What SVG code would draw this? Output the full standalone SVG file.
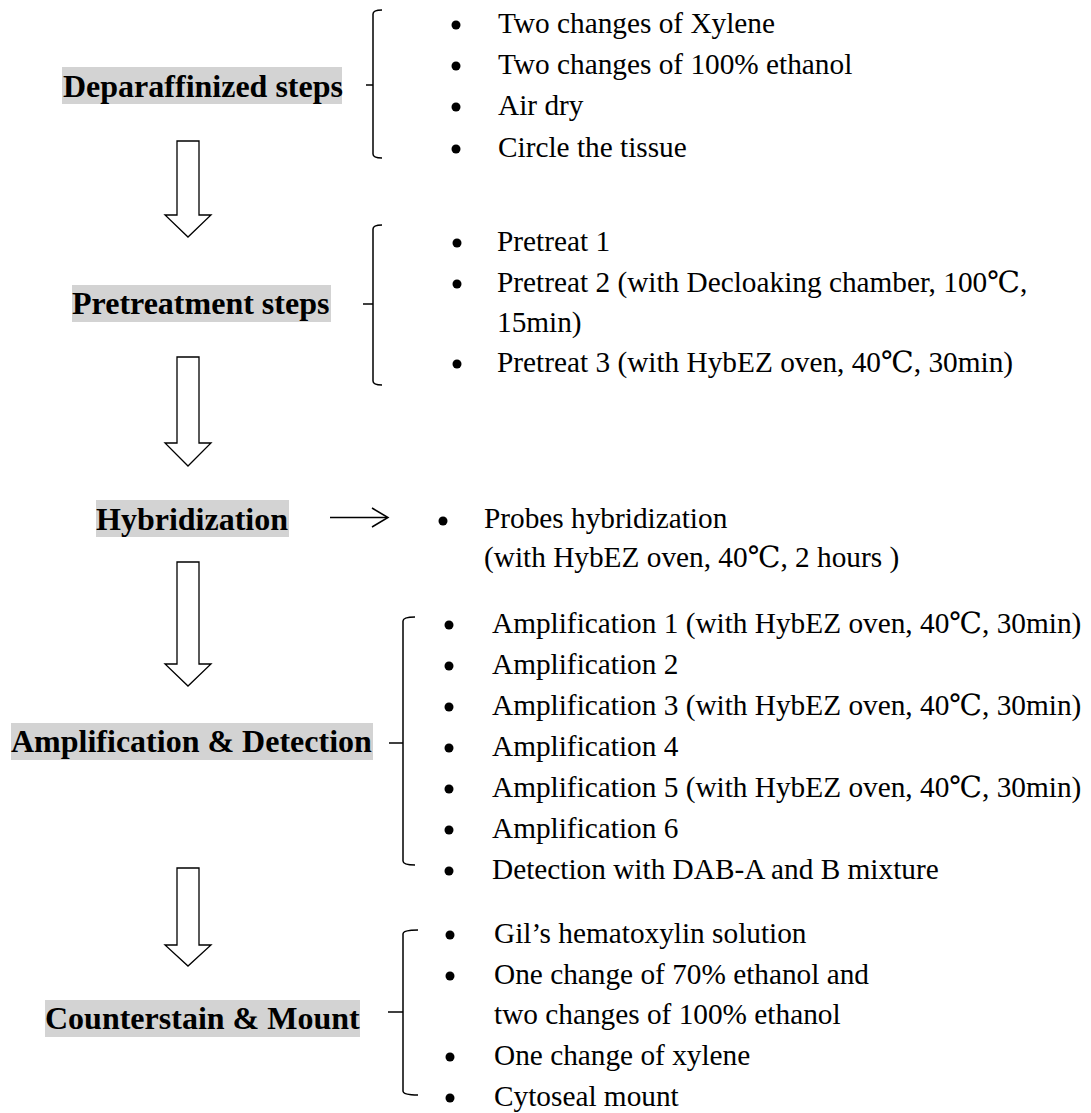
<svg xmlns="http://www.w3.org/2000/svg" width="1091" height="1113" viewBox="0 0 1091 1113">
<style>
.lbl{font-family:"Liberation Serif","Times New Roman",serif;font-weight:bold;font-size:32px;fill:#000}
.bg{fill:#D3D3D3}
.txt{font-family:"Liberation Serif","Times New Roman","DejaVu Serif","Noto Sans CJK SC",serif;font-size:29.3px;fill:#000}
.dot{fill:#000}
.blk{fill:#fff;stroke:#000;stroke-width:1.3}
.br{fill:none;stroke:#000;stroke-width:1.5}
.ln{fill:none;stroke:#000;stroke-width:1.5}
</style>
<rect width="1091" height="1113" fill="#fff"/>

<g id="step-deparaffinized">
<rect class="bg" x="62" y="67" width="280" height="37"/>
<text class="lbl" x="63" y="97">Deparaffinized steps</text>
</g>
<g id="list-deparaffinized">
<circle class="dot" cx="456" cy="25" r="4.5"/><text class="txt" x="498" y="33">Two changes of Xylene</text>
<circle class="dot" cx="456" cy="66" r="4.5"/><text class="txt" x="498" y="74">Two changes of 100% ethanol</text>
<circle class="dot" cx="456" cy="107" r="4.5"/><text class="txt" x="498" y="115">Air dry</text>
<circle class="dot" cx="456" cy="149" r="4.5"/><text class="txt" x="498" y="157">Circle the tissue</text>
</g>

<g id="step-pretreatment">
<rect class="bg" x="72" y="285" width="259" height="37"/>
<text class="lbl" x="72" y="314">Pretreatment steps</text>
</g>
<g id="list-pretreatment">
<circle class="dot" cx="457" cy="243" r="4.5"/><text class="txt" x="497" y="251">Pretreat 1</text>
<circle class="dot" cx="457" cy="284" r="4.5"/><text class="txt" x="497" y="292">Pretreat 2 (with Decloaking chamber, 100℃,</text>
<text class="txt" x="497" y="332">15min)</text>
<circle class="dot" cx="457" cy="364" r="4.5"/><text class="txt" x="497" y="372">Pretreat 3 (with HybEZ oven, 40℃, 30min)</text>
</g>

<g id="step-hybridization">
<rect class="bg" x="96" y="500" width="193" height="37"/>
<text class="lbl" x="96" y="530">Hybridization</text>
</g>
<g id="list-hybridization">
<circle class="dot" cx="443" cy="521" r="4.5"/><text class="txt" x="484" y="528">Probes hybridization</text>
<text class="txt" x="484" y="567">(with HybEZ oven, 40℃, 2 hours )</text>
</g>

<g id="step-amplification">
<rect class="bg" x="11" y="723" width="362" height="37"/>
<text class="lbl" x="11" y="752">Amplification &amp; Detection</text>
</g>
<g id="list-amplification">
<circle class="dot" cx="449" cy="625" r="4.5"/><text class="txt" x="492" y="633">Amplification 1 (with HybEZ oven, 40℃, 30min)</text>
<circle class="dot" cx="449" cy="666" r="4.5"/><text class="txt" x="492" y="674">Amplification 2</text>
<circle class="dot" cx="449" cy="707" r="4.5"/><text class="txt" x="492" y="715">Amplification 3 (with HybEZ oven, 40℃, 30min)</text>
<circle class="dot" cx="449" cy="748" r="4.5"/><text class="txt" x="492" y="756">Amplification 4</text>
<circle class="dot" cx="449" cy="789" r="4.5"/><text class="txt" x="492" y="797">Amplification 5 (with HybEZ oven, 40℃, 30min)</text>
<circle class="dot" cx="449" cy="830" r="4.5"/><text class="txt" x="492" y="838">Amplification 6</text>
<circle class="dot" cx="449" cy="871" r="4.5"/><text class="txt" x="492" y="879">Detection with DAB-A and B mixture</text>
</g>

<g id="step-counterstain">
<rect class="bg" x="45" y="1000" width="315" height="37"/>
<text class="lbl" x="45" y="1029">Counterstain &amp; Mount</text>
</g>
<g id="list-counterstain">
<circle class="dot" cx="450" cy="935" r="4.5"/><text class="txt" x="494" y="943">Gil’s hematoxylin solution</text>
<circle class="dot" cx="450" cy="976" r="4.5"/><text class="txt" x="494" y="984">One change of 70% ethanol and</text>
<text class="txt" x="494" y="1024">two changes of 100% ethanol</text>
<circle class="dot" cx="450" cy="1057" r="4.5"/><text class="txt" x="494" y="1065">One change of xylene</text>
<circle class="dot" cx="450" cy="1098" r="4.5"/><text class="txt" x="494" y="1106">Cytoseal mount</text>
</g>

<g id="connectors">
<path class="blk" d="M177 141 H199 V215 H211 L188 237 L165 215 H177 Z"/>
<path class="blk" d="M177 357 H199 V443 H211 L188 466 L165 443 H177 Z"/>
<path class="blk" d="M177 562 H199 V664 H211 L188 686 L165 664 H177 Z"/>
<path class="blk" d="M177 868 H199 V945 H211 L188 966 L165 945 H177 Z"/>
<path class="ln" d="M330 517.5 H387"/>
<path class="ln" d="M372 508 L388 517.5 L372 527"/>
<path class="br" d="M382 10 Q373 10 373 14 V154 Q373 158 382 158"/>
<path class="br" d="M366 85 H373"/>
<path class="br" d="M382 225 Q373 225 373 229 V381 Q373 385 382 385"/>
<path class="br" d="M363 304 H373"/>
<path class="br" d="M415 617 Q403 617 403 621 V861 Q403 865 415 865"/>
<path class="br" d="M389 743 H403"/>
<path class="br" d="M418 930 Q403 930 403 934 V1091 Q403 1095 418 1095"/>
<path class="br" d="M388 1012 H403"/>
</g>
</svg>
